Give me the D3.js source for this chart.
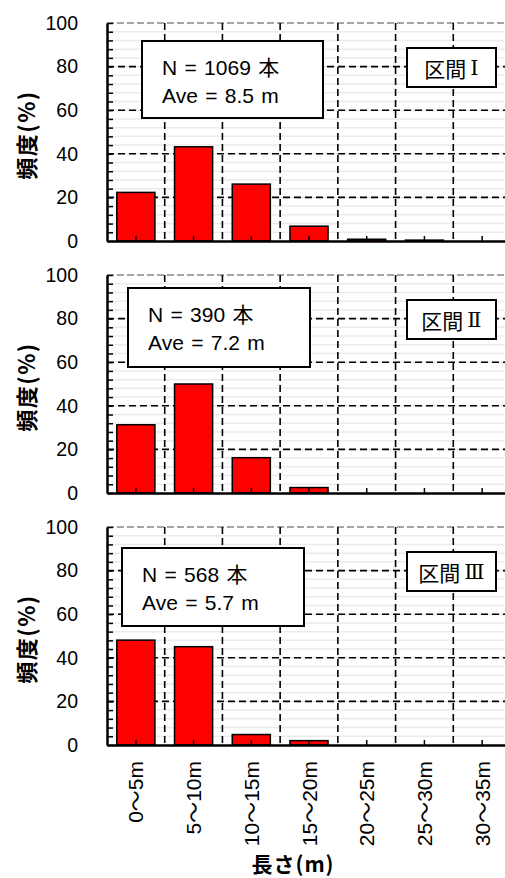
<!DOCTYPE html>
<html>
<head>
<meta charset="utf-8">
<script src="https://cdn.jsdelivr.net/npm/d3@7"></script>
<style>
  html, body { margin: 0; padding: 0; background: #fff; }
  svg { display: block; }
  text { font-family: "Liberation Sans", Arial, "Noto Sans CJK JP", sans-serif; fill: #000; }
  .cjk { font-family: "Noto Sans CJK JP", "Liberation Sans", sans-serif; }
  .numeral { font-family: "DejaVu Serif", "Noto Sans CJK JP", serif; }
</style>
</head>
<body>
<svg id="chart" width="505" height="878"></svg>
<script>
// Length classes of the logs (x axis)
const categories = ["0～5m", "5～10m", "10～15m", "15～20m", "20～25m", "25～30m", "30～35m"];
// One panel per section
const sectionNames = ["区間", "区間", "区間"];
const sectionNumerals = ["Ⅰ", "Ⅱ", "Ⅲ"];
const counts = [1069, 390, 568];
const averages = [8.5, 7.2, 5.7];
// Frequency (%) per length class
const freqSection1 = [22.3, 43.2, 26.1, 6.8, 0.8, 0.4, 0];
const freqSection2 = [31.3, 50.0, 16.2, 2.5, 0, 0, 0];
const freqSection3 = [48.1, 45.1, 4.8, 2.0, 0, 0, 0];
const yTickValues = [0, 20, 40, 60, 80, 100];
const yMinorStep = 4;

const series = [freqSection1, freqSection2, freqSection3];

// Layout
const plotLeft = 107, plotRight = 511;
const panelTops = [23, 275, 527];
const panelH = 218;
const statBoxes = [   // stat box placement inside each panel (px, relative to panel)
  { x: 142, y: 18, w: 181, h: 77 },
  { x: 128, y: 13, w: 182, h: 79 },
  { x: 122, y: 21, w: 182, h: 78 }
];
const secBox = { x: 407, y: 25, w: 89, h: 39 };

const svg = d3.select("#chart");

const x = d3.scaleBand().domain(categories).range([plotLeft, plotRight])
  .paddingInner(0.34).paddingOuter(0.17);
const step = x.step();
const y = d3.scaleLinear().domain([0, 100]).range([panelH, 0]);

const minorTicks = d3.range(0, 100 + 0.001, yMinorStep);
const boundaries = categories.slice(0, -1).map(c => x(c) + x.bandwidth() + (step - x.bandwidth()) / 2);

series.forEach((vals, i) => {
  const g = svg.append("g").attr("transform", `translate(0,${panelTops[i]})`);
  const data = categories.map((c, k) => ({ cat: c, v: vals[k] }));

  // light minor grid
  g.append("g").selectAll("line").data(minorTicks.filter(t => t > 0 && t < 100)).join("line")
    .attr("x1", plotLeft).attr("x2", plotRight)
    .attr("y1", d => y(d)).attr("y2", d => y(d))
    .attr("stroke", "#ebebeb").attr("stroke-width", 1.5);

  // major dashed grid
  g.append("g").selectAll("line").data(yTickValues.filter(t => t > 0 && t < 100)).join("line")
    .attr("x1", plotLeft).attr("x2", plotRight)
    .attr("y1", d => y(d)).attr("y2", d => y(d))
    .attr("stroke", "#000").attr("stroke-width", 1.6).attr("stroke-dasharray", "7,4");

  // top border line
  g.append("line")
    .attr("x1", plotLeft).attr("x2", plotRight).attr("y1", y(100)).attr("y2", y(100))
    .attr("stroke", "#888").attr("stroke-width", 1.5).attr("stroke-dasharray", "7,3");

  // vertical dashed grid between classes
  g.append("g").selectAll("line").data(boundaries).join("line")
    .attr("x1", d => d).attr("x2", d => d)
    .attr("y1", y(100)).attr("y2", y(0))
    .attr("stroke", "#000").attr("stroke-width", 1.6).attr("stroke-dasharray", "7,4");

  // bars
  g.append("g").selectAll("rect").data(data.filter(d => d.v > 0)).join("rect")
    .attr("x", d => x(d.cat)).attr("width", x.bandwidth())
    .attr("y", d => y(d.v)).attr("height", d => y(0) - y(d.v))
    .attr("fill", "#ff0000").attr("stroke", "#000").attr("stroke-width", 1.5);

  // statistics box
  const sb = statBoxes[i];
  g.append("rect").attr("x", sb.x).attr("y", sb.y).attr("width", sb.w).attr("height", sb.h)
    .attr("fill", "#fff").attr("stroke", "#000").attr("stroke-width", 2);
  g.append("text").attr("x", sb.x + 20).attr("y", sb.y + 34)
    .attr("font-size", 21).attr("word-spacing", 1.5).text(`N = ${counts[i]} 本`);
  g.append("text").attr("x", sb.x + 20).attr("y", sb.y + 62)
    .attr("font-size", 21).attr("word-spacing", 1.5).text(`Ave = ${averages[i].toFixed(1)} m`);

  // section label box
  g.append("rect").attr("x", secBox.x).attr("y", secBox.y).attr("width", secBox.w).attr("height", secBox.h)
    .attr("fill", "#fff").attr("stroke", "#000").attr("stroke-width", 2);
  const st = g.append("text").attr("class", "cjk")
    .attr("x", secBox.x + secBox.w / 2).attr("y", secBox.y + secBox.h / 2)
    .attr("text-anchor", "middle").attr("dominant-baseline", "central")
    .attr("font-size", 21);
  st.append("tspan").text(sectionNames[i]);
  st.append("tspan").attr("class", "numeral").attr("dx", 4).attr("font-weight", 400)
    .text(sectionNumerals[i]);

  // y axis: inward minor ticks
  const yAxis = g.append("g").attr("transform", `translate(${plotLeft},0)`)
    .call(d3.axisLeft(y).tickValues(minorTicks).tickSize(-6).tickFormat("").tickSizeOuter(0));
  yAxis.select(".domain").attr("stroke-width", 2.5);
  yAxis.selectAll(".tick line").attr("stroke-width", 1.5);

  // y tick labels
  const yLab = g.append("g").attr("transform", `translate(${plotLeft},0)`)
    .call(d3.axisLeft(y).tickValues(yTickValues).tickSize(0).tickPadding(29));
  yLab.select(".domain").remove();
  yLab.selectAll("text").attr("font-size", 19.5).attr("font-family", "Liberation Sans, Arial, sans-serif");

  // x axis with inward ticks at class centres
  const xAxis = g.append("g").attr("transform", `translate(0,${panelH})`)
    .call(d3.axisBottom(x).tickSize(-5).tickFormat("").tickSizeOuter(0));
  xAxis.select(".domain").attr("stroke-width", 2.5);
  xAxis.selectAll(".tick line").attr("stroke-width", 1.5);

  // y title
  g.append("text").attr("class", "cjk")
    .attr("transform", `translate(25,${panelH / 2 + 3}) rotate(-90)`)
    .attr("text-anchor", "middle").attr("dominant-baseline", "central")
    .attr("font-size", 22).attr("font-weight", 700).attr("letter-spacing", 1.5).text("頻度(%)");

  // category labels on the bottom panel only
  if (i === series.length - 1) {
    g.append("g").selectAll("text").data(categories).join("text")
      .attr("transform", d => `translate(${x(d) + x.bandwidth() / 2},${panelH + 16}) rotate(-90)`)
      .attr("text-anchor", "end").attr("dominant-baseline", "central")
      .attr("font-size", 21).text(d => d);
  }
});

// x title
svg.append("text").attr("class", "cjk")
  .attr("x", 293).attr("y", 872).attr("text-anchor", "middle")
  .attr("font-size", 21).attr("font-weight", 700).attr("letter-spacing", 1).text("長さ(m)");
</script>
</body>
</html>
